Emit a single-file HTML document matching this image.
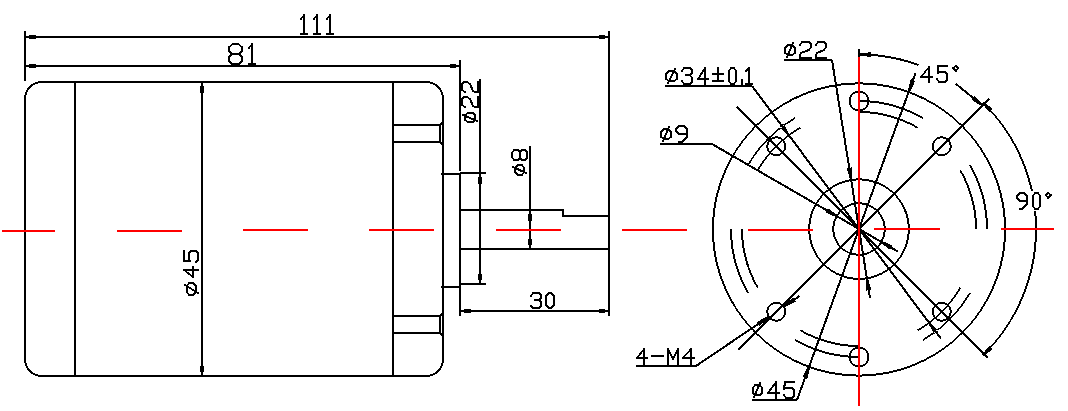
<!DOCTYPE html>
<html><head><meta charset="utf-8"><style>
html,body{margin:0;padding:0;background:#fff;}
body{width:1068px;height:411px;overflow:hidden;font-family:"Liberation Sans",sans-serif;}
svg{display:block;}
</style></head><body>
<svg width="1068" height="411" viewBox="0 0 1068 411" shape-rendering="crispEdges">
<rect width="1068" height="411" fill="#fff"/>
<rect x="25" y="82" width="418" height="294" rx="17" ry="17" fill="none" stroke="#000" stroke-width="2"/>
<path d="M460,210 L563,210 L563,216 L609,216" fill="none" stroke="#000" stroke-width="2"/>
<path d="M75,82 L75,376M393,82 L393,376M393,125 L440,125M393,142 L440,142M440,124 L440,143M393,316 L440,316M393,333 L440,333M440,315 L440,334M441,174 L460,174M460,173 L486,173M441,287 L460,287M460,284 L486,284M460,249 L609,249M25,31 L25,81M609,31 L609,316M460,60 L460,171M460,173 L460,316M25,37 L609,37M25,66 L460,66M202,83 L202,375M480,79 L480,284M530,146 L530,249M460,311 L609,311M738,350 L989,99M737,107 L988,358M859,49 L859,57M955.82,83.82 L981.74,104.97M784,60 L832,60M832,60 L870.04,298.12M665,86 L752,86M752,86 L941.08,338.69M660,144 L712,144M712,144 L898.22,251.68M752,400 L797,400M797,400 L915.58,72.94M636,366 L696,366M696,366 L768.4,317.05M784.14,306.41 L799.46,296.05" fill="none" stroke="#000" stroke-width="2" stroke-linecap="butt"/>
<path d="M440,125 L443,122M440,142 L443,145M440,316 L443,313M440,333 L443,336" fill="none" stroke="#000" stroke-width="1.5" stroke-linecap="butt"/>
<path d="M301,19 L304,15M314,19 L317,15M327,19 L330,15M238,44 L242,47M229,47 L233,44M249,48 L252,44" fill="none" stroke="#000" stroke-width="1.72" stroke-linecap="round"/>
<path d="M304,15 L304,34M301,34 L307,34M317,15 L317,34M314,34 L320,34M330,15 L330,34M327,34 L333,34M233,44 L238,44M242,47 L242,51M239,54 L232,54M229,51 L229,47M229,57 L229,61M232,64 L239,64M242,61 L242,57M252,44 L252,64M249,64 L255,64M187,292 L187,286M189,283 L193,283M196,286 L196,292M193,295 L189,295M198,270 L184,270M193,277 L193,267M184,251 L184,261M184,261 L190,261M189,259 L189,253M191,251 L196,251M198,253 L198,260M465,120 L465,115M468,113 L473,113M475,115 L475,120M473,122 L468,122M462,105 L462,99M464,97 L467,97M475,107 L478,107M478,107 L478,97M462,90 L462,84M464,82 L467,82M475,92 L478,92M478,92 L478,82M515,172 L515,168M518,165 L522,165M524,168 L524,172M522,175 L518,175M512,157 L512,153M514,150 L518,150M520,152 L520,158M518,160 L514,160M522,160 L525,160M527,158 L527,152M525,150 L522,150M533,293 L539,293M541,295 L541,298M539,300 L535,300M541,302 L541,306M539,308 L533,308M549,293 L551,293M554,296 L554,305M551,308 L549,308M546,305 L546,296M1027,201 L1020,201M1017,198 L1017,196M1020,193 L1024,193M1027,196 L1027,204M1022,209 L1020,209M1035,193 L1038,193M1040,196 L1040,206M1038,209 L1035,209M1033,206 L1033,196M929,82 L929,67M921,77 L932,77M947,66 L938,66M938,66 L938,73M940,72 L945,72M947,74 L947,80M945,82 L939,82M788,45 L792,45M795,48 L795,53M792,55 L788,55M785,53 L785,48M802,42 L809,42M811,44 L811,47M800,55 L800,58M800,58 L811,58M818,42 L824,42M826,44 L826,47M816,55 L816,58M816,58 L826,58M669,71 L674,71M677,74 L677,79M674,81 L669,81M666,79 L666,74M684,68 L690,68M692,70 L692,73M690,75 L686,75M692,78 L692,82M690,84 L684,84M705,84 L705,68M698,79 L708,79M718,68 L718,80M713,74 L723,74M713,81 L723,81M731,68 L734,68M736,71 L736,81M734,84 L731,84M729,81 L729,71M742,80 L742,84M749,68 L749,84M746,84 L752,84M664,129 L668,129M671,132 L671,137M668,139 L664,139M661,137 L661,132M687,134 L679,134M676,131 L676,129M679,126 L684,126M687,129 L687,137M682,142 L679,142M755,385 L760,385M762,388 L762,393M760,395 L755,395M753,393 L753,388M776,398 L776,382M768,393 L779,393M794,382 L785,382M786,388 L792,388M794,390 L794,396M792,398 L786,398M644,364 L644,349M637,358 L647,358M652,356 L663,356M668,364 L668,349M678,349 L678,364M691,364 L691,349M683,358 L694,358" fill="none" stroke="#000" stroke-width="2.12" stroke-linecap="round"/>
<path d="M242,51 L239,54M232,54 L229,51M232,54 L229,57M229,61 L232,64M239,64 L242,61M242,57 L239,54M193,283 L196,286M196,292 L193,295M189,253 L191,251M196,251 L198,253M198,260 L196,262M473,113 L475,115M475,120 L473,122M462,99 L464,97M462,84 L464,82M515,168 L518,165M518,175 L515,172M518,150 L520,152M520,158 L518,160M520,158 L522,160M525,160 L527,158M527,152 L525,150M522,150 L520,152M539,293 L541,295M541,298 L539,300M539,300 L541,302M541,306 L539,308M533,308 L531,306M551,293 L554,296M554,305 L551,308M549,308 L546,305M546,296 L549,293M1020,201 L1017,198M1017,196 L1020,193M1024,193 L1027,196M1027,204 L1023,208M1023,208 L1022,209M1051,195 L1048,198M1046,195 L1048,193M945,72 L947,74M947,80 L945,82M956,66 L958,68M956,71 L953,68M792,45 L795,48M785,48 L788,45M809,42 L811,44M824,42 L826,44M674,71 L677,74M666,74 L669,71M690,68 L692,70M692,73 L690,75M692,82 L690,84M746,71 L749,68M668,129 L671,132M661,132 L664,129M679,134 L676,131M676,129 L679,126M684,126 L687,129M687,137 L683,141M683,141 L682,142M762,393 L760,395M755,395 L753,393M792,388 L794,390M794,396 L792,398" fill="none" stroke="#000" stroke-width="1.53" stroke-linecap="round"/>
<path d="M187,286 L189,283M189,295 L187,292M465,115 L468,113M468,122 L465,120M465,107 L462,105M467,97 L470,99M465,92 L462,90M467,82 L470,84M522,165 L524,168M524,172 L522,175M512,153 L514,150M514,160 L512,157M531,296 L533,293M1038,193 L1040,196M1040,206 L1038,209M1035,209 L1033,206M1033,196 L1035,193M1048,193 L1051,195M1048,198 L1046,195M939,82 L937,79M958,68 L956,71M953,68 L956,66M795,53 L792,55M788,55 L785,53M800,45 L802,42M811,47 L809,50M816,45 L818,42M826,47 L824,50M677,79 L674,81M669,81 L666,79M682,71 L684,68M690,75 L692,78M684,84 L682,81M734,68 L736,71M736,81 L734,84M731,84 L729,81M729,71 L731,68M671,137 L668,139M664,139 L661,137M760,385 L762,388M753,388 L755,385M786,398 L784,395" fill="none" stroke="#000" stroke-width="1.78" stroke-linecap="round"/>
<path d="M198,293 L185,285" fill="none" stroke="#000" stroke-width="1.82" stroke-linecap="round"/>
<path d="M184,270 L193,277M644,349 L637,358" fill="none" stroke="#000" stroke-width="1.7" stroke-linecap="round"/>
<path d="M190,261 L189,259M473,106 L475,107M473,91 L475,92M938,73 L940,72M801,53 L800,55M817,53 L816,55M668,83 L675,69M784,389 L786,388M668,349 L673,359M673,359 L678,349" fill="none" stroke="#000" stroke-width="1.91" stroke-linecap="round"/>
<path d="M477,121 L463,115M470,99 L473,106M470,84 L473,91M787,57 L793,43M824,50 L817,53M663,141 L669,127M754,397 L760,383" fill="none" stroke="#000" stroke-width="1.96" stroke-linecap="round"/>
<path d="M526,173 L513,167" fill="none" stroke="#000" stroke-width="1.94" stroke-linecap="round"/>
<path d="M929,67 L921,77" fill="none" stroke="#000" stroke-width="1.68" stroke-linecap="round"/>
<path d="M809,50 L801,53" fill="none" stroke="#000" stroke-width="1.99" stroke-linecap="round"/>
<path d="M705,68 L698,79" fill="none" stroke="#000" stroke-width="1.81" stroke-linecap="round"/>
<path d="M776,382 L768,393" fill="none" stroke="#000" stroke-width="1.74" stroke-linecap="round"/>
<path d="M785,382 L784,389" fill="none" stroke="#000" stroke-width="2.1" stroke-linecap="round"/>
<path d="M691,349 L683,358" fill="none" stroke="#000" stroke-width="1.61" stroke-linecap="round"/>
<path d="M26,35.9 L35.5,34.55 L35.5,39.45 L26,38.1ZM608,38.1 L598.5,39.45 L598.5,34.55 L608,35.9ZM26,64.9 L35.5,63.55 L35.5,68.45 L26,67.1ZM459,67.1 L449.5,68.45 L449.5,63.55 L459,64.9ZM203.1,83 L204.45,92.5 L199.55,92.5 L200.9,83ZM200.9,375 L199.55,365.5 L204.45,365.5 L203.1,375ZM481.1,174 L482.45,183.5 L477.55,183.5 L478.9,174ZM478.9,283 L477.55,273.5 L482.45,273.5 L481.1,283ZM531.1,211 L532.45,220.5 L527.55,220.5 L528.9,211ZM528.9,248 L527.55,238.5 L532.45,238.5 L531.1,248ZM461,309.9 L470.5,308.55 L470.5,313.45 L461,312.1ZM608,312.1 L598.5,313.45 L598.5,308.55 L608,309.9ZM1006.05,229.5 L1006.03,227.36 L1005.99,225.22 L1005.91,223.09 L1005.8,220.95 L1005.66,218.82 L1005.49,216.68 L1005.28,214.56 L1005.05,212.43 L1004.78,210.31 L1004.49,208.19 L1004.16,206.08 L1003.8,203.97 L1003.41,201.86 L1002.99,199.77 L1002.54,197.68 L1002.06,195.59 L1001.55,193.52 L1001.01,191.45 L1000.43,189.39 L999.83,187.34 L999.2,185.3 L998.54,183.26 L997.85,181.24 L997.13,179.23 L996.37,177.22 L995.59,175.23 L994.79,173.26 L993.95,171.29 L993.08,169.33 L992.19,167.39 L991.26,165.47 L990.31,163.55 L989.33,161.65 L988.33,159.77 L987.29,157.9 L986.23,156.04 L985.14,154.2 L984.03,152.38 L982.89,150.57 L981.72,148.79 L980.53,147.01 L979.31,145.26 L978.06,143.52 L976.79,141.81 L975.5,140.11 L974.18,138.43 L972.84,136.77 L971.47,135.13 L970.08,133.51 L968.66,131.91 L967.22,130.33 L965.76,128.78 L964.28,127.24 L962.77,125.73 L961.26,124.22 L959.72,122.74 L958.17,121.28 L956.59,119.84 L954.99,118.42 L953.37,117.03 L951.73,115.66 L950.07,114.32 L948.39,113 L946.69,111.71 L944.98,110.44 L943.24,109.19 L941.49,107.97 L939.71,106.78 L937.93,105.61 L936.12,104.47 L934.3,103.36 L932.46,102.27 L930.6,101.21 L928.73,100.17 L926.85,99.17 L924.95,98.19 L923.03,97.24 L921.11,96.31 L919.17,95.42 L917.21,94.55 L915.24,93.71 L913.27,92.91 L911.28,92.13 L909.27,91.37 L907.26,90.65 L905.24,89.96 L903.2,89.3 L901.16,88.67 L899.11,88.07 L897.05,87.49 L894.98,86.95 L892.91,86.44 L890.82,85.96 L888.73,85.51 L886.64,85.09 L884.53,84.7 L882.42,84.34 L880.31,84.01 L878.19,83.72 L876.07,83.45 L873.94,83.22 L871.82,83.01 L869.68,82.84 L867.55,82.7 L865.41,82.59 L863.28,82.51 L861.14,82.47 L859,82.45 L856.86,82.47 L854.72,82.51 L852.59,82.59 L850.45,82.7 L848.32,82.84 L846.18,83.01 L844.06,83.22 L841.93,83.45 L839.81,83.72 L837.69,84.01 L835.58,84.34 L833.47,84.7 L831.36,85.09 L829.27,85.51 L827.18,85.96 L825.09,86.44 L823.02,86.95 L820.95,87.49 L818.89,88.07 L816.84,88.67 L814.8,89.3 L812.76,89.96 L810.74,90.65 L808.73,91.37 L806.72,92.13 L804.73,92.91 L802.76,93.71 L800.79,94.55 L798.83,95.42 L796.89,96.31 L794.97,97.24 L793.05,98.19 L791.15,99.17 L789.27,100.17 L787.4,101.21 L785.54,102.27 L783.7,103.36 L781.88,104.47 L780.07,105.61 L778.29,106.78 L776.51,107.97 L774.76,109.19 L773.02,110.44 L771.31,111.71 L769.61,113 L767.93,114.32 L766.27,115.66 L764.63,117.03 L763.01,118.42 L761.41,119.84 L759.83,121.28 L758.28,122.74 L756.74,124.22 L755.23,125.73 L753.72,127.24 L752.24,128.78 L750.78,130.33 L749.34,131.91 L747.92,133.51 L746.53,135.13 L745.16,136.77 L743.82,138.43 L742.5,140.11 L741.21,141.81 L739.94,143.52 L738.69,145.26 L737.47,147.01 L736.28,148.79 L735.11,150.57 L733.97,152.38 L732.86,154.2 L731.77,156.04 L730.71,157.9 L729.67,159.77 L728.67,161.65 L727.69,163.55 L726.74,165.47 L725.81,167.39 L724.92,169.33 L724.05,171.29 L723.21,173.26 L722.41,175.23 L721.63,177.22 L720.87,179.23 L720.15,181.24 L719.46,183.26 L718.8,185.3 L718.17,187.34 L717.57,189.39 L716.99,191.45 L716.45,193.52 L715.94,195.59 L715.46,197.68 L715.01,199.77 L714.59,201.86 L714.2,203.97 L713.84,206.08 L713.51,208.19 L713.22,210.31 L712.95,212.43 L712.72,214.56 L712.51,216.68 L712.34,218.82 L712.2,220.95 L712.09,223.09 L712.01,225.22 L711.97,227.36 L711.95,229.5 L711.97,231.64 L712.01,233.78 L712.09,235.91 L712.2,238.05 L712.34,240.18 L712.51,242.32 L712.72,244.44 L712.95,246.57 L713.22,248.69 L713.51,250.81 L713.84,252.92 L714.2,255.03 L714.59,257.14 L715.01,259.23 L715.46,261.32 L715.94,263.41 L716.45,265.48 L716.99,267.55 L717.57,269.61 L718.17,271.66 L718.8,273.7 L719.46,275.74 L720.15,277.76 L720.87,279.77 L721.63,281.78 L722.41,283.77 L723.21,285.74 L724.05,287.71 L724.92,289.67 L725.81,291.61 L726.74,293.53 L727.69,295.45 L728.67,297.35 L729.67,299.23 L730.71,301.1 L731.77,302.96 L732.86,304.8 L733.97,306.62 L735.11,308.43 L736.28,310.21 L737.47,311.99 L738.69,313.74 L739.94,315.48 L741.21,317.19 L742.5,318.89 L743.82,320.57 L745.16,322.23 L746.53,323.87 L747.92,325.49 L749.34,327.09 L750.78,328.67 L752.24,330.22 L753.72,331.76 L755.23,333.27 L756.74,334.78 L758.28,336.26 L759.83,337.72 L761.41,339.16 L763.01,340.58 L764.63,341.97 L766.27,343.34 L767.93,344.68 L769.61,346 L771.31,347.29 L773.02,348.56 L774.76,349.81 L776.51,351.03 L778.29,352.22 L780.07,353.39 L781.88,354.53 L783.7,355.64 L785.54,356.73 L787.4,357.79 L789.27,358.83 L791.15,359.83 L793.05,360.81 L794.97,361.76 L796.89,362.69 L798.83,363.58 L800.79,364.45 L802.76,365.29 L804.73,366.09 L806.72,366.87 L808.73,367.63 L810.74,368.35 L812.76,369.04 L814.8,369.7 L816.84,370.33 L818.89,370.93 L820.95,371.51 L823.02,372.05 L825.09,372.56 L827.18,373.04 L829.27,373.49 L831.36,373.91 L833.47,374.3 L835.58,374.66 L837.69,374.99 L839.81,375.28 L841.93,375.55 L844.06,375.78 L846.18,375.99 L848.32,376.16 L850.45,376.3 L852.59,376.41 L854.72,376.49 L856.86,376.53 L859,376.55 L861.14,376.53 L863.28,376.49 L865.41,376.41 L867.55,376.3 L869.68,376.16 L871.82,375.99 L873.94,375.78 L876.07,375.55 L878.19,375.28 L880.31,374.99 L882.42,374.66 L884.53,374.3 L886.64,373.91 L888.73,373.49 L890.82,373.04 L892.91,372.56 L894.98,372.05 L897.05,371.51 L899.11,370.93 L901.16,370.33 L903.2,369.7 L905.24,369.04 L907.26,368.35 L909.27,367.63 L911.28,366.87 L913.27,366.09 L915.24,365.29 L917.21,364.45 L919.17,363.58 L921.11,362.69 L923.03,361.76 L924.95,360.81 L926.85,359.83 L928.73,358.83 L930.6,357.79 L932.46,356.73 L934.3,355.64 L936.12,354.53 L937.93,353.39 L939.71,352.22 L941.49,351.03 L943.24,349.81 L944.98,348.56 L946.69,347.29 L948.39,346 L950.07,344.68 L951.73,343.34 L953.37,341.97 L954.99,340.58 L956.59,339.16 L958.17,337.72 L959.72,336.26 L961.26,334.78 L962.77,333.27 L964.28,331.76 L965.76,330.22 L967.22,328.67 L968.66,327.09 L970.08,325.49 L971.47,323.87 L972.84,322.23 L974.18,320.57 L975.5,318.89 L976.79,317.19 L978.06,315.48 L979.31,313.74 L980.53,311.99 L981.72,310.21 L982.89,308.43 L984.03,306.62 L985.14,304.8 L986.23,302.96 L987.29,301.1 L988.33,299.23 L989.33,297.35 L990.31,295.45 L991.26,293.53 L992.19,291.61 L993.08,289.67 L993.95,287.71 L994.79,285.74 L995.59,283.77 L996.37,281.78 L997.13,279.77 L997.85,277.76 L998.54,275.74 L999.2,273.7 L999.83,271.66 L1000.43,269.61 L1001.01,267.55 L1001.55,265.48 L1002.06,263.41 L1002.54,261.32 L1002.99,259.23 L1003.41,257.14 L1003.8,255.03 L1004.16,252.92 L1004.49,250.81 L1004.78,248.69 L1005.05,246.57 L1005.28,244.44 L1005.49,242.32 L1005.66,240.18 L1005.8,238.05 L1005.91,235.91 L1005.99,233.78 L1006.03,231.64ZM1004.03,231.61 L1003.99,233.72 L1003.91,235.83 L1003.81,237.93 L1003.67,240.04 L1003.5,242.14 L1003.3,244.24 L1003.08,246.34 L1002.82,248.43 L1002.53,250.52 L1002.21,252.61 L1001.86,254.69 L1001.48,256.77 L1001.07,258.84 L1000.63,260.9 L1000.17,262.96 L999.67,265.01 L999.14,267.05 L998.58,269.09 L998,271.11 L997.38,273.13 L996.74,275.14 L996.06,277.14 L995.36,279.13 L994.63,281.11 L993.87,283.08 L993.08,285.04 L992.26,286.98 L991.42,288.92 L990.54,290.84 L989.64,292.75 L988.72,294.65 L987.76,296.53 L986.78,298.4 L985.77,300.25 L984.73,302.09 L983.67,303.92 L982.58,305.73 L981.47,307.52 L980.32,309.3 L979.16,311.06 L977.97,312.8 L976.75,314.53 L975.51,316.24 L974.24,317.93 L972.95,319.6 L971.63,321.25 L970.29,322.89 L968.93,324.5 L967.54,326.1 L966.14,327.67 L964.7,329.23 L963.25,330.76 L961.77,332.27 L960.26,333.75 L958.73,335.2 L957.17,336.64 L955.6,338.04 L954,339.43 L952.39,340.79 L950.75,342.13 L949.1,343.45 L947.43,344.74 L945.74,346.01 L944.03,347.25 L942.3,348.47 L940.56,349.66 L938.8,350.82 L937.02,351.97 L935.23,353.08 L933.42,354.17 L931.59,355.23 L929.75,356.27 L927.9,357.28 L926.03,358.26 L924.15,359.22 L922.25,360.14 L920.34,361.04 L918.42,361.92 L916.48,362.76 L914.54,363.58 L912.58,364.37 L910.61,365.13 L908.63,365.86 L906.64,366.56 L904.64,367.24 L902.63,367.88 L900.61,368.5 L898.59,369.08 L896.55,369.64 L894.51,370.17 L892.46,370.67 L890.4,371.13 L888.34,371.57 L886.27,371.98 L884.19,372.36 L882.11,372.71 L880.02,373.03 L877.93,373.32 L875.84,373.58 L873.74,373.8 L871.64,374 L869.54,374.17 L867.43,374.31 L865.33,374.41 L863.22,374.49 L861.11,374.53 L859,374.55 L856.89,374.53 L854.78,374.49 L852.67,374.41 L850.57,374.31 L848.46,374.17 L846.36,374 L844.26,373.8 L842.16,373.58 L840.07,373.32 L837.98,373.03 L835.89,372.71 L833.81,372.36 L831.73,371.98 L829.66,371.57 L827.6,371.13 L825.54,370.67 L823.49,370.17 L821.45,369.64 L819.41,369.08 L817.39,368.5 L815.37,367.88 L813.36,367.24 L811.36,366.56 L809.37,365.86 L807.39,365.13 L805.42,364.37 L803.46,363.58 L801.52,362.76 L799.58,361.92 L797.66,361.04 L795.75,360.14 L793.85,359.22 L791.97,358.26 L790.1,357.28 L788.25,356.27 L786.41,355.23 L784.58,354.17 L782.77,353.08 L780.98,351.97 L779.2,350.82 L777.44,349.66 L775.7,348.47 L773.97,347.25 L772.26,346.01 L770.57,344.74 L768.9,343.45 L767.25,342.13 L765.61,340.79 L764,339.43 L762.4,338.04 L760.83,336.64 L759.27,335.2 L757.74,333.75 L756.23,332.27 L754.75,330.76 L753.3,329.23 L751.86,327.67 L750.46,326.1 L749.07,324.5 L747.71,322.89 L746.37,321.25 L745.05,319.6 L743.76,317.93 L742.49,316.24 L741.25,314.53 L740.03,312.8 L738.84,311.06 L737.68,309.3 L736.53,307.52 L735.42,305.73 L734.33,303.92 L733.27,302.09 L732.23,300.25 L731.22,298.4 L730.24,296.53 L729.28,294.65 L728.36,292.75 L727.46,290.84 L726.58,288.92 L725.74,286.98 L724.92,285.04 L724.13,283.08 L723.37,281.11 L722.64,279.13 L721.94,277.14 L721.26,275.14 L720.62,273.13 L720,271.11 L719.42,269.09 L718.86,267.05 L718.33,265.01 L717.83,262.96 L717.37,260.9 L716.93,258.84 L716.52,256.77 L716.14,254.69 L715.79,252.61 L715.47,250.52 L715.18,248.43 L714.92,246.34 L714.7,244.24 L714.5,242.14 L714.33,240.04 L714.19,237.93 L714.09,235.83 L714.01,233.72 L713.97,231.61 L713.95,229.5 L713.97,227.39 L714.01,225.28 L714.09,223.17 L714.19,221.07 L714.33,218.96 L714.5,216.86 L714.7,214.76 L714.92,212.66 L715.18,210.57 L715.47,208.48 L715.79,206.39 L716.14,204.31 L716.52,202.23 L716.93,200.16 L717.37,198.1 L717.83,196.04 L718.33,193.99 L718.86,191.95 L719.42,189.91 L720,187.89 L720.62,185.87 L721.26,183.86 L721.94,181.86 L722.64,179.87 L723.37,177.89 L724.13,175.92 L724.92,173.96 L725.74,172.02 L726.58,170.08 L727.46,168.16 L728.36,166.25 L729.28,164.35 L730.24,162.47 L731.22,160.6 L732.23,158.75 L733.27,156.91 L734.33,155.08 L735.42,153.27 L736.53,151.48 L737.68,149.7 L738.84,147.94 L740.03,146.2 L741.25,144.47 L742.49,142.76 L743.76,141.07 L745.05,139.4 L746.37,137.75 L747.71,136.11 L749.07,134.5 L750.46,132.9 L751.86,131.33 L753.3,129.77 L754.75,128.24 L756.23,126.73 L757.74,125.25 L759.27,123.8 L760.83,122.36 L762.4,120.96 L764,119.57 L765.61,118.21 L767.25,116.87 L768.9,115.55 L770.57,114.26 L772.26,112.99 L773.97,111.75 L775.7,110.53 L777.44,109.34 L779.2,108.18 L780.98,107.03 L782.77,105.92 L784.58,104.83 L786.41,103.77 L788.25,102.73 L790.1,101.72 L791.97,100.74 L793.85,99.78 L795.75,98.86 L797.66,97.96 L799.58,97.08 L801.52,96.24 L803.46,95.42 L805.42,94.63 L807.39,93.87 L809.37,93.14 L811.36,92.44 L813.36,91.76 L815.37,91.12 L817.39,90.5 L819.41,89.92 L821.45,89.36 L823.49,88.83 L825.54,88.33 L827.6,87.87 L829.66,87.43 L831.73,87.02 L833.81,86.64 L835.89,86.29 L837.98,85.97 L840.07,85.68 L842.16,85.42 L844.26,85.2 L846.36,85 L848.46,84.83 L850.57,84.69 L852.67,84.59 L854.78,84.51 L856.89,84.47 L859,84.45 L861.11,84.47 L863.22,84.51 L865.33,84.59 L867.43,84.69 L869.54,84.83 L871.64,85 L873.74,85.2 L875.84,85.42 L877.93,85.68 L880.02,85.97 L882.11,86.29 L884.19,86.64 L886.27,87.02 L888.34,87.43 L890.4,87.87 L892.46,88.33 L894.51,88.83 L896.55,89.36 L898.59,89.92 L900.61,90.5 L902.63,91.12 L904.64,91.76 L906.64,92.44 L908.63,93.14 L910.61,93.87 L912.58,94.63 L914.54,95.42 L916.48,96.24 L918.42,97.08 L920.34,97.96 L922.25,98.86 L924.15,99.78 L926.03,100.74 L927.9,101.72 L929.75,102.73 L931.59,103.77 L933.42,104.83 L935.23,105.92 L937.02,107.03 L938.8,108.18 L940.56,109.34 L942.3,110.53 L944.03,111.75 L945.74,112.99 L947.43,114.26 L949.1,115.55 L950.75,116.87 L952.39,118.21 L954,119.57 L955.6,120.96 L957.17,122.36 L958.73,123.8 L960.26,125.25 L961.77,126.73 L963.25,128.24 L964.7,129.77 L966.14,131.33 L967.54,132.9 L968.93,134.5 L970.29,136.11 L971.63,137.75 L972.95,139.4 L974.24,141.07 L975.51,142.76 L976.75,144.47 L977.97,146.2 L979.16,147.94 L980.32,149.7 L981.47,151.48 L982.58,153.27 L983.67,155.08 L984.73,156.91 L985.77,158.75 L986.78,160.6 L987.76,162.47 L988.72,164.35 L989.64,166.25 L990.54,168.16 L991.42,170.08 L992.26,172.02 L993.08,173.96 L993.87,175.92 L994.63,177.89 L995.36,179.87 L996.06,181.86 L996.74,183.86 L997.38,185.87 L998,187.89 L998.58,189.91 L999.14,191.95 L999.67,193.99 L1000.17,196.04 L1000.63,198.1 L1001.07,200.16 L1001.48,202.23 L1001.86,204.31 L1002.21,206.39 L1002.53,208.48 L1002.82,210.57 L1003.08,212.66 L1003.3,214.76 L1003.5,216.86 L1003.67,218.96 L1003.81,221.07 L1003.91,223.17 L1003.99,225.28 L1004.03,227.39 L1004.05,229.5ZM909.75,229.15 L909.7,226.94 L909.55,224.73 L909.31,222.53 L908.96,220.34 L908.52,218.17 L907.99,216.02 L907.36,213.9 L906.63,211.81 L905.82,209.76 L904.91,207.74 L903.92,205.77 L902.83,203.84 L901.67,201.97 L900.42,200.14 L899.1,198.38 L897.7,196.68 L896.22,195.04 L894.68,193.47 L893.11,191.93 L891.47,190.45 L889.77,189.05 L888.01,187.73 L886.18,186.48 L884.31,185.32 L882.38,184.23 L880.41,183.24 L878.39,182.33 L876.34,181.52 L874.25,180.79 L872.13,180.16 L869.98,179.63 L867.81,179.19 L865.62,178.84 L863.42,178.6 L861.21,178.45 L859,178.4 L856.79,178.45 L854.58,178.6 L852.38,178.84 L850.19,179.19 L848.02,179.63 L845.87,180.16 L843.75,180.79 L841.66,181.52 L839.61,182.33 L837.59,183.24 L835.62,184.23 L833.69,185.32 L831.82,186.48 L829.99,187.73 L828.23,189.05 L826.53,190.45 L824.89,191.93 L823.32,193.47 L821.78,195.04 L820.3,196.68 L818.9,198.38 L817.58,200.14 L816.33,201.97 L815.17,203.84 L814.08,205.77 L813.09,207.74 L812.18,209.76 L811.37,211.81 L810.64,213.9 L810.01,216.02 L809.48,218.17 L809.04,220.34 L808.69,222.53 L808.45,224.73 L808.3,226.94 L808.25,229.15 L808.3,231.36 L808.45,233.57 L808.69,235.77 L809.04,237.96 L809.48,240.13 L810.01,242.28 L810.64,244.4 L811.37,246.49 L812.18,248.54 L813.09,250.56 L814.08,252.53 L815.17,254.46 L816.33,256.33 L817.58,258.16 L818.9,259.92 L820.3,261.62 L821.78,263.26 L823.32,264.83 L824.89,266.37 L826.53,267.85 L828.23,269.25 L829.99,270.57 L831.82,271.82 L833.69,272.98 L835.62,274.07 L837.59,275.06 L839.61,275.97 L841.66,276.78 L843.75,277.51 L845.87,278.14 L848.02,278.67 L850.19,279.11 L852.38,279.46 L854.58,279.7 L856.79,279.85 L859,279.9 L861.21,279.85 L863.42,279.7 L865.62,279.46 L867.81,279.11 L869.98,278.67 L872.13,278.14 L874.25,277.51 L876.34,276.78 L878.39,275.97 L880.41,275.06 L882.38,274.07 L884.31,272.98 L886.18,271.82 L888.01,270.57 L889.77,269.25 L891.47,267.85 L893.11,266.37 L894.68,264.83 L896.22,263.26 L897.7,261.62 L899.1,259.92 L900.42,258.16 L901.67,256.33 L902.83,254.46 L903.92,252.53 L904.91,250.56 L905.82,248.54 L906.63,246.49 L907.36,244.4 L907.99,242.28 L908.52,240.13 L908.96,237.96 L909.31,235.77 L909.55,233.57 L909.7,231.36ZM907.7,231.28 L907.57,233.4 L907.34,235.51 L907.02,237.62 L906.62,239.71 L906.12,241.78 L905.54,243.82 L904.87,245.84 L904.11,247.83 L903.27,249.79 L902.34,251.71 L901.33,253.59 L900.25,255.43 L899.08,257.22 L897.84,258.95 L896.52,260.64 L895.14,262.26 L893.68,263.83 L892.11,265.29 L890.49,266.67 L888.8,267.99 L887.07,269.23 L885.28,270.4 L883.44,271.48 L881.56,272.49 L879.64,273.42 L877.68,274.26 L875.69,275.02 L873.67,275.69 L871.63,276.27 L869.56,276.77 L867.47,277.17 L865.36,277.49 L863.25,277.72 L861.13,277.85 L859,277.9 L856.87,277.85 L854.75,277.72 L852.64,277.49 L850.53,277.17 L848.44,276.77 L846.37,276.27 L844.33,275.69 L842.31,275.02 L840.32,274.26 L838.36,273.42 L836.44,272.49 L834.56,271.48 L832.72,270.4 L830.93,269.23 L829.2,267.99 L827.51,266.67 L825.89,265.29 L824.32,263.83 L822.86,262.26 L821.48,260.64 L820.16,258.95 L818.92,257.22 L817.75,255.43 L816.67,253.59 L815.66,251.71 L814.73,249.79 L813.89,247.83 L813.13,245.84 L812.46,243.82 L811.88,241.78 L811.38,239.71 L810.98,237.62 L810.66,235.51 L810.43,233.4 L810.3,231.28 L810.25,229.15 L810.3,227.02 L810.43,224.9 L810.66,222.79 L810.98,220.68 L811.38,218.59 L811.88,216.52 L812.46,214.48 L813.13,212.46 L813.89,210.47 L814.73,208.51 L815.66,206.59 L816.67,204.71 L817.75,202.87 L818.92,201.08 L820.16,199.35 L821.48,197.66 L822.86,196.04 L824.32,194.47 L825.89,193.01 L827.51,191.63 L829.2,190.31 L830.93,189.07 L832.72,187.9 L834.56,186.82 L836.44,185.81 L838.36,184.88 L840.32,184.04 L842.31,183.28 L844.33,182.61 L846.37,182.03 L848.44,181.53 L850.53,181.13 L852.64,180.81 L854.75,180.58 L856.87,180.45 L859,180.4 L861.13,180.45 L863.25,180.58 L865.36,180.81 L867.47,181.13 L869.56,181.53 L871.63,182.03 L873.67,182.61 L875.69,183.28 L877.68,184.04 L879.64,184.88 L881.56,185.81 L883.44,186.82 L885.28,187.9 L887.07,189.07 L888.8,190.31 L890.49,191.63 L892.11,193.01 L893.68,194.47 L895.14,196.04 L896.52,197.66 L897.84,199.35 L899.08,201.08 L900.25,202.87 L901.33,204.71 L902.34,206.59 L903.27,208.51 L904.11,210.47 L904.87,212.46 L905.54,214.48 L906.12,216.52 L906.62,218.59 L907.02,220.68 L907.34,222.79 L907.57,224.9 L907.7,227.02 L907.75,229.15ZM885.7,229.05 L885.59,226.72 L885.28,224.42 L884.76,222.15 L884.03,219.94 L883.11,217.81 L882.01,215.77 L880.72,213.84 L879.27,212.04 L877.67,210.38 L876.01,208.78 L874.21,207.33 L872.28,206.04 L870.24,204.94 L868.11,204.02 L865.9,203.29 L863.63,202.77 L861.33,202.46 L859,202.35 L856.67,202.46 L854.37,202.77 L852.1,203.29 L849.89,204.02 L847.76,204.94 L845.72,206.04 L843.79,207.33 L841.99,208.78 L840.33,210.38 L838.73,212.04 L837.28,213.84 L835.99,215.77 L834.89,217.81 L833.97,219.94 L833.24,222.15 L832.72,224.42 L832.41,226.72 L832.3,229.05 L832.41,231.38 L832.72,233.68 L833.24,235.95 L833.97,238.16 L834.89,240.29 L835.99,242.33 L837.28,244.26 L838.73,246.06 L840.33,247.72 L841.99,249.32 L843.79,250.77 L845.72,252.06 L847.76,253.16 L849.89,254.08 L852.1,254.81 L854.37,255.33 L856.67,255.64 L859,255.75 L861.33,255.64 L863.63,255.33 L865.9,254.81 L868.11,254.08 L870.24,253.16 L872.28,252.06 L874.21,250.77 L876.01,249.32 L877.67,247.72 L879.27,246.06 L880.72,244.26 L882.01,242.33 L883.11,240.29 L884.03,238.16 L884.76,235.95 L885.28,233.68 L885.59,231.38ZM883.61,231.2 L883.34,233.34 L882.89,235.45 L882.27,237.52 L881.47,239.53 L880.51,241.47 L879.38,243.32 L878.1,245.08 L876.67,246.72 L875.03,248.15 L873.27,249.43 L871.42,250.56 L869.48,251.52 L867.47,252.32 L865.4,252.94 L863.29,253.39 L861.15,253.66 L859,253.75 L856.85,253.66 L854.71,253.39 L852.6,252.94 L850.53,252.32 L848.52,251.52 L846.58,250.56 L844.73,249.43 L842.97,248.15 L841.33,246.72 L839.9,245.08 L838.62,243.32 L837.49,241.47 L836.53,239.53 L835.73,237.52 L835.11,235.45 L834.66,233.34 L834.39,231.2 L834.3,229.05 L834.39,226.9 L834.66,224.76 L835.11,222.65 L835.73,220.58 L836.53,218.57 L837.49,216.63 L838.62,214.78 L839.9,213.02 L841.33,211.38 L842.97,209.95 L844.73,208.67 L846.58,207.54 L848.52,206.58 L850.53,205.78 L852.6,205.16 L854.71,204.71 L856.85,204.44 L859,204.35 L861.15,204.44 L863.29,204.71 L865.4,205.16 L867.47,205.78 L869.48,206.58 L871.42,207.54 L873.27,208.67 L875.03,209.95 L876.67,211.38 L878.1,213.02 L879.38,214.78 L880.51,216.63 L881.47,218.57 L882.27,220.58 L882.89,222.65 L883.34,224.76 L883.61,226.9 L883.7,229.05ZM869.5,101 L869.44,99.97 L869.28,98.96 L869.01,97.96 L868.63,97.01 L868.16,96.11 L867.59,95.26 L866.94,94.48 L866.22,93.78 L865.52,93.06 L864.74,92.41 L863.89,91.84 L862.99,91.37 L862.04,90.99 L861.04,90.72 L860.03,90.56 L859,90.5 L857.97,90.56 L856.96,90.72 L855.96,90.99 L855.01,91.37 L854.11,91.84 L853.26,92.41 L852.48,93.06 L851.78,93.78 L851.06,94.48 L850.41,95.26 L849.84,96.11 L849.37,97.01 L848.99,97.96 L848.72,98.96 L848.56,99.97 L848.5,101 L848.56,102.03 L848.72,103.04 L848.99,104.04 L849.37,104.99 L849.84,105.89 L850.41,106.74 L851.06,107.52 L851.78,108.22 L852.48,108.94 L853.26,109.59 L854.11,110.16 L855.01,110.63 L855.96,111.01 L856.96,111.28 L857.97,111.44 L859,111.5 L860.03,111.44 L861.04,111.28 L862.04,111.01 L862.99,110.63 L863.89,110.16 L864.74,109.59 L865.52,108.94 L866.22,108.22 L866.94,107.52 L867.59,106.74 L868.16,105.89 L868.63,104.99 L869.01,104.04 L869.28,103.04 L869.44,102.03ZM867.46,101.83 L867.36,102.66 L867.18,103.48 L866.92,104.28 L866.6,105.06 L866.21,105.82 L865.75,106.54 L865.22,107.22 L864.54,107.75 L863.82,108.21 L863.06,108.6 L862.28,108.92 L861.48,109.18 L860.66,109.36 L859.83,109.46 L859,109.5 L858.17,109.46 L857.34,109.36 L856.52,109.18 L855.72,108.92 L854.94,108.6 L854.18,108.21 L853.46,107.75 L852.78,107.22 L852.25,106.54 L851.79,105.82 L851.4,105.06 L851.08,104.28 L850.82,103.48 L850.64,102.66 L850.54,101.83 L850.5,101 L850.54,100.17 L850.64,99.34 L850.82,98.52 L851.08,97.72 L851.4,96.94 L851.79,96.18 L852.25,95.46 L852.78,94.78 L853.46,94.25 L854.18,93.79 L854.94,93.4 L855.72,93.08 L856.52,92.82 L857.34,92.64 L858.17,92.54 L859,92.5 L859.83,92.54 L860.66,92.64 L861.48,92.82 L862.28,93.08 L863.06,93.4 L863.82,93.79 L864.54,94.25 L865.22,94.78 L865.75,95.46 L866.21,96.18 L866.6,96.94 L866.92,97.72 L867.18,98.52 L867.36,99.34 L867.46,100.17 L867.5,101ZM869.5,357 L869.44,355.97 L869.28,354.96 L869.01,353.96 L868.63,353.01 L868.16,352.11 L867.59,351.26 L866.94,350.48 L866.22,349.78 L865.52,349.06 L864.74,348.41 L863.89,347.84 L862.99,347.37 L862.04,346.99 L861.04,346.72 L860.03,346.56 L859,346.5 L857.97,346.56 L856.96,346.72 L855.96,346.99 L855.01,347.37 L854.11,347.84 L853.26,348.41 L852.48,349.06 L851.78,349.78 L851.06,350.48 L850.41,351.26 L849.84,352.11 L849.37,353.01 L848.99,353.96 L848.72,354.96 L848.56,355.97 L848.5,357 L848.56,358.03 L848.72,359.04 L848.99,360.04 L849.37,360.99 L849.84,361.89 L850.41,362.74 L851.06,363.52 L851.78,364.22 L852.48,364.94 L853.26,365.59 L854.11,366.16 L855.01,366.63 L855.96,367.01 L856.96,367.28 L857.97,367.44 L859,367.5 L860.03,367.44 L861.04,367.28 L862.04,367.01 L862.99,366.63 L863.89,366.16 L864.74,365.59 L865.52,364.94 L866.22,364.22 L866.94,363.52 L867.59,362.74 L868.16,361.89 L868.63,360.99 L869.01,360.04 L869.28,359.04 L869.44,358.03ZM867.46,357.83 L867.36,358.66 L867.18,359.48 L866.92,360.28 L866.6,361.06 L866.21,361.82 L865.75,362.54 L865.22,363.22 L864.54,363.75 L863.82,364.21 L863.06,364.6 L862.28,364.92 L861.48,365.18 L860.66,365.36 L859.83,365.46 L859,365.5 L858.17,365.46 L857.34,365.36 L856.52,365.18 L855.72,364.92 L854.94,364.6 L854.18,364.21 L853.46,363.75 L852.78,363.22 L852.25,362.54 L851.79,361.82 L851.4,361.06 L851.08,360.28 L850.82,359.48 L850.64,358.66 L850.54,357.83 L850.5,357 L850.54,356.17 L850.64,355.34 L850.82,354.52 L851.08,353.72 L851.4,352.94 L851.79,352.18 L852.25,351.46 L852.78,350.78 L853.46,350.25 L854.18,349.79 L854.94,349.4 L855.72,349.08 L856.52,348.82 L857.34,348.64 L858.17,348.54 L859,348.5 L859.83,348.54 L860.66,348.64 L861.48,348.82 L862.28,349.08 L863.06,349.4 L863.82,349.79 L864.54,350.25 L865.22,350.78 L865.75,351.46 L866.21,352.18 L866.6,352.94 L866.92,353.72 L867.18,354.52 L867.36,355.34 L867.46,356.17 L867.5,357ZM951.63,146.27 L951.58,145.3 L951.42,144.34 L951.16,143.41 L950.81,142.51 L950.36,141.66 L949.82,140.86 L949.21,140.13 L948.52,139.48 L947.87,138.79 L947.14,138.18 L946.34,137.64 L945.49,137.19 L944.59,136.84 L943.66,136.58 L942.7,136.42 L941.73,136.37 L940.76,136.42 L939.8,136.58 L938.87,136.84 L937.97,137.19 L937.12,137.64 L936.32,138.18 L935.6,138.79 L934.94,139.48 L934.25,140.13 L933.64,140.86 L933.1,141.66 L932.66,142.51 L932.3,143.41 L932.04,144.34 L931.88,145.3 L931.83,146.27 L931.88,147.24 L932.04,148.2 L932.3,149.13 L932.66,150.03 L933.1,150.88 L933.64,151.68 L934.25,152.4 L934.94,153.06 L935.6,153.75 L936.32,154.36 L937.12,154.9 L937.97,155.34 L938.87,155.7 L939.8,155.96 L940.76,156.12 L941.73,156.17 L942.7,156.12 L943.66,155.96 L944.59,155.7 L945.49,155.34 L946.34,154.9 L947.14,154.36 L947.87,153.75 L948.52,153.06 L949.21,152.4 L949.82,151.68 L950.36,150.88 L950.81,150.03 L951.16,149.13 L951.42,148.2 L951.58,147.24ZM949.6,147.04 L949.5,147.81 L949.33,148.57 L949.1,149.32 L948.8,150.05 L948.44,150.75 L948.01,151.42 L947.52,152.06 L946.89,152.55 L946.21,152.98 L945.51,153.34 L944.78,153.64 L944.04,153.87 L943.28,154.04 L942.51,154.14 L941.73,154.17 L940.96,154.14 L940.19,154.04 L939.43,153.87 L938.68,153.64 L937.95,153.34 L937.25,152.98 L936.58,152.55 L935.94,152.06 L935.45,151.42 L935.02,150.75 L934.66,150.05 L934.36,149.32 L934.13,148.57 L933.96,147.81 L933.86,147.04 L933.83,146.27 L933.86,145.49 L933.96,144.72 L934.13,143.96 L934.36,143.22 L934.66,142.49 L935.02,141.79 L935.45,141.11 L935.94,140.48 L936.58,139.99 L937.25,139.56 L937.95,139.2 L938.68,138.9 L939.43,138.67 L940.19,138.5 L940.96,138.4 L941.73,138.37 L942.51,138.4 L943.28,138.5 L944.04,138.67 L944.78,138.9 L945.51,139.2 L946.21,139.56 L946.89,139.99 L947.52,140.48 L948.01,141.11 L948.44,141.79 L948.8,142.49 L949.1,143.22 L949.33,143.96 L949.5,144.72 L949.6,145.49 L949.63,146.27ZM786.17,146.27 L786.12,145.3 L785.96,144.34 L785.7,143.41 L785.34,142.51 L784.9,141.66 L784.36,140.86 L783.75,140.13 L783.06,139.48 L782.4,138.79 L781.68,138.18 L780.88,137.64 L780.03,137.19 L779.13,136.84 L778.2,136.58 L777.24,136.42 L776.27,136.37 L775.3,136.42 L774.34,136.58 L773.41,136.84 L772.51,137.19 L771.66,137.64 L770.86,138.18 L770.13,138.79 L769.48,139.48 L768.79,140.13 L768.18,140.86 L767.64,141.66 L767.19,142.51 L766.84,143.41 L766.58,144.34 L766.42,145.3 L766.37,146.27 L766.42,147.24 L766.58,148.2 L766.84,149.13 L767.19,150.03 L767.64,150.88 L768.18,151.68 L768.79,152.4 L769.48,153.06 L770.13,153.75 L770.86,154.36 L771.66,154.9 L772.51,155.34 L773.41,155.7 L774.34,155.96 L775.3,156.12 L776.27,156.17 L777.24,156.12 L778.2,155.96 L779.13,155.7 L780.03,155.34 L780.88,154.9 L781.68,154.36 L782.4,153.75 L783.06,153.06 L783.75,152.4 L784.36,151.68 L784.9,150.88 L785.34,150.03 L785.7,149.13 L785.96,148.2 L786.12,147.24ZM784.14,147.04 L784.04,147.81 L783.87,148.57 L783.64,149.32 L783.34,150.05 L782.98,150.75 L782.55,151.42 L782.06,152.06 L781.42,152.55 L780.75,152.98 L780.05,153.34 L779.32,153.64 L778.57,153.87 L777.81,154.04 L777.04,154.14 L776.27,154.17 L775.49,154.14 L774.72,154.04 L773.96,153.87 L773.22,153.64 L772.49,153.34 L771.79,152.98 L771.11,152.55 L770.48,152.06 L769.99,151.42 L769.56,150.75 L769.2,150.05 L768.9,149.32 L768.67,148.57 L768.5,147.81 L768.4,147.04 L768.37,146.27 L768.4,145.49 L768.5,144.72 L768.67,143.96 L768.9,143.22 L769.2,142.49 L769.56,141.79 L769.99,141.11 L770.48,140.48 L771.11,139.99 L771.79,139.56 L772.49,139.2 L773.22,138.9 L773.96,138.67 L774.72,138.5 L775.49,138.4 L776.27,138.37 L777.04,138.4 L777.81,138.5 L778.57,138.67 L779.32,138.9 L780.05,139.2 L780.75,139.56 L781.42,139.99 L782.06,140.48 L782.55,141.11 L782.98,141.79 L783.34,142.49 L783.64,143.22 L783.87,143.96 L784.04,144.72 L784.14,145.49 L784.17,146.27ZM786.17,311.73 L786.12,310.76 L785.96,309.8 L785.7,308.87 L785.34,307.97 L784.9,307.12 L784.36,306.32 L783.75,305.6 L783.06,304.94 L782.4,304.25 L781.68,303.64 L780.88,303.1 L780.03,302.66 L779.13,302.3 L778.2,302.04 L777.24,301.88 L776.27,301.83 L775.3,301.88 L774.34,302.04 L773.41,302.3 L772.51,302.66 L771.66,303.1 L770.86,303.64 L770.13,304.25 L769.48,304.94 L768.79,305.6 L768.18,306.32 L767.64,307.12 L767.19,307.97 L766.84,308.87 L766.58,309.8 L766.42,310.76 L766.37,311.73 L766.42,312.7 L766.58,313.66 L766.84,314.59 L767.19,315.49 L767.64,316.34 L768.18,317.14 L768.79,317.87 L769.48,318.52 L770.13,319.21 L770.86,319.82 L771.66,320.36 L772.51,320.81 L773.41,321.16 L774.34,321.42 L775.3,321.58 L776.27,321.63 L777.24,321.58 L778.2,321.42 L779.13,321.16 L780.03,320.81 L780.88,320.36 L781.68,319.82 L782.4,319.21 L783.06,318.52 L783.75,317.87 L784.36,317.14 L784.9,316.34 L785.34,315.49 L785.7,314.59 L785.96,313.66 L786.12,312.7ZM784.14,312.51 L784.04,313.28 L783.87,314.04 L783.64,314.78 L783.34,315.51 L782.98,316.21 L782.55,316.89 L782.06,317.52 L781.42,318.01 L780.75,318.44 L780.05,318.8 L779.32,319.1 L778.57,319.33 L777.81,319.5 L777.04,319.6 L776.27,319.63 L775.49,319.6 L774.72,319.5 L773.96,319.33 L773.22,319.1 L772.49,318.8 L771.79,318.44 L771.11,318.01 L770.48,317.52 L769.99,316.89 L769.56,316.21 L769.2,315.51 L768.9,314.78 L768.67,314.04 L768.5,313.28 L768.4,312.51 L768.37,311.73 L768.4,310.96 L768.5,310.19 L768.67,309.43 L768.9,308.68 L769.2,307.95 L769.56,307.25 L769.99,306.58 L770.48,305.94 L771.11,305.45 L771.79,305.02 L772.49,304.66 L773.22,304.36 L773.96,304.13 L774.72,303.96 L775.49,303.86 L776.27,303.83 L777.04,303.86 L777.81,303.96 L778.57,304.13 L779.32,304.36 L780.05,304.66 L780.75,305.02 L781.42,305.45 L782.06,305.94 L782.55,306.58 L782.98,307.25 L783.34,307.95 L783.64,308.68 L783.87,309.43 L784.04,310.19 L784.14,310.96 L784.17,311.73ZM951.63,311.73 L951.58,310.76 L951.42,309.8 L951.16,308.87 L950.81,307.97 L950.36,307.12 L949.82,306.32 L949.21,305.6 L948.52,304.94 L947.87,304.25 L947.14,303.64 L946.34,303.1 L945.49,302.66 L944.59,302.3 L943.66,302.04 L942.7,301.88 L941.73,301.83 L940.76,301.88 L939.8,302.04 L938.87,302.3 L937.97,302.66 L937.12,303.1 L936.32,303.64 L935.6,304.25 L934.94,304.94 L934.25,305.6 L933.64,306.32 L933.1,307.12 L932.66,307.97 L932.3,308.87 L932.04,309.8 L931.88,310.76 L931.83,311.73 L931.88,312.7 L932.04,313.66 L932.3,314.59 L932.66,315.49 L933.1,316.34 L933.64,317.14 L934.25,317.87 L934.94,318.52 L935.6,319.21 L936.32,319.82 L937.12,320.36 L937.97,320.81 L938.87,321.16 L939.8,321.42 L940.76,321.58 L941.73,321.63 L942.7,321.58 L943.66,321.42 L944.59,321.16 L945.49,320.81 L946.34,320.36 L947.14,319.82 L947.87,319.21 L948.52,318.52 L949.21,317.87 L949.82,317.14 L950.36,316.34 L950.81,315.49 L951.16,314.59 L951.42,313.66 L951.58,312.7ZM949.6,312.51 L949.5,313.28 L949.33,314.04 L949.1,314.78 L948.8,315.51 L948.44,316.21 L948.01,316.89 L947.52,317.52 L946.89,318.01 L946.21,318.44 L945.51,318.8 L944.78,319.1 L944.04,319.33 L943.28,319.5 L942.51,319.6 L941.73,319.63 L940.96,319.6 L940.19,319.5 L939.43,319.33 L938.68,319.1 L937.95,318.8 L937.25,318.44 L936.58,318.01 L935.94,317.52 L935.45,316.89 L935.02,316.21 L934.66,315.51 L934.36,314.78 L934.13,314.04 L933.96,313.28 L933.86,312.51 L933.83,311.73 L933.86,310.96 L933.96,310.19 L934.13,309.43 L934.36,308.68 L934.66,307.95 L935.02,307.25 L935.45,306.58 L935.94,305.94 L936.58,305.45 L937.25,305.02 L937.95,304.66 L938.68,304.36 L939.43,304.13 L940.19,303.96 L940.96,303.86 L941.73,303.83 L942.51,303.86 L943.28,303.96 L944.04,304.13 L944.78,304.36 L945.51,304.66 L946.21,305.02 L946.89,305.45 L947.52,305.94 L948.01,306.58 L948.44,307.25 L948.8,307.95 L949.1,308.68 L949.33,309.43 L949.5,310.19 L949.6,310.96 L949.63,311.73ZM977,229 L976.98,226.87 L976.92,224.74 L976.83,222.61 L976.69,220.49 L976.52,218.36 L976.3,216.24 L976.05,214.13 L975.76,212.02 L975.43,209.91 L975.07,207.81 L974.66,205.72 L974.22,203.64 L973.74,201.56 L973.22,199.5 L972.66,197.44 L972.07,195.4 L971.44,193.36 L970.77,191.34 L970.07,189.33 L969.33,187.33 L968.55,185.35 L967.74,183.38 L966.89,181.43 L966.01,179.49 L965.09,177.57 L964.14,175.67 L963.15,173.78 L962.13,171.92 L961.07,170.07 L959.57,170.93 L960.6,172.76 L961.59,174.61 L962.55,176.47 L963.47,178.36 L964.36,180.25 L965.22,182.17 L966.04,184.1 L966.83,186.04 L967.58,187.99 L968.3,189.96 L968.98,191.94 L969.62,193.94 L970.23,195.94 L970.81,197.96 L971.34,199.98 L971.85,202.02 L972.31,204.06 L972.74,206.11 L973.13,208.17 L973.48,210.23 L973.8,212.3 L974.08,214.38 L974.33,216.46 L974.53,218.54 L974.7,220.63 L974.83,222.72 L974.93,224.81 L974.98,226.91 L975,229ZM988,229 L987.98,226.89 L987.93,224.78 L987.84,222.67 L987.72,220.56 L987.57,218.46 L987.37,216.36 L987.15,214.26 L986.89,212.16 L986.59,210.07 L986.26,207.99 L985.9,205.91 L985.5,203.84 L985.07,201.77 L984.6,199.71 L984.1,197.66 L983.57,195.62 L983,193.59 L982.4,191.57 L981.77,189.55 L981.1,187.55 L980.4,185.56 L979.67,183.58 L978.91,181.62 L978.11,179.66 L977.28,177.72 L976.42,175.8 L975.53,173.89 L974.6,171.99 L973.65,170.11 L972.66,168.25 L971.65,166.4 L970.6,164.57 L969.1,165.43 L970.12,167.25 L971.11,169.08 L972.07,170.92 L973,172.78 L973.89,174.66 L974.76,176.55 L975.6,178.45 L976.4,180.37 L977.18,182.3 L977.92,184.24 L978.63,186.2 L979.31,188.16 L979.96,190.14 L980.57,192.12 L981.16,194.12 L981.71,196.12 L982.22,198.13 L982.71,200.16 L983.16,202.18 L983.58,204.22 L983.96,206.26 L984.32,208.31 L984.64,210.36 L984.92,212.42 L985.17,214.48 L985.39,216.55 L985.58,218.62 L985.73,220.69 L985.85,222.77 L985.93,224.84 L985.98,226.92 L986,229ZM917.93,126.93 L916.08,125.87 L914.22,124.85 L912.33,123.86 L910.43,122.91 L908.51,121.99 L906.57,121.11 L904.62,120.26 L902.65,119.45 L900.67,118.67 L898.67,117.93 L896.66,117.23 L894.64,116.56 L892.6,115.93 L890.56,115.34 L888.5,114.78 L886.44,114.26 L884.36,113.78 L882.28,113.34 L880.19,112.93 L878.09,112.57 L875.98,112.24 L873.87,111.95 L871.76,111.7 L869.64,111.48 L867.51,111.31 L865.39,111.17 L863.26,111.08 L861.13,111.02 L859,111 L859,113 L861.09,113.02 L863.19,113.07 L865.28,113.17 L867.37,113.3 L869.46,113.47 L871.54,113.67 L873.62,113.92 L875.7,114.2 L877.77,114.52 L879.83,114.87 L881.89,115.26 L883.94,115.69 L885.98,116.15 L888.02,116.66 L890.04,117.19 L892.06,117.77 L894.06,118.38 L896.06,119.02 L898.04,119.7 L900.01,120.42 L901.96,121.17 L903.9,121.96 L905.83,122.78 L907.75,123.64 L909.64,124.53 L911.53,125.45 L913.39,126.41 L915.24,127.4 L917.07,128.43ZM923.43,117.4 L921.6,116.35 L919.75,115.34 L917.89,114.35 L916.01,113.4 L914.11,112.47 L912.2,111.58 L910.28,110.72 L908.34,109.89 L906.38,109.09 L904.42,108.33 L902.44,107.6 L900.45,106.9 L898.45,106.23 L896.43,105.6 L894.41,105 L892.38,104.43 L890.34,103.9 L888.29,103.4 L886.23,102.93 L884.16,102.5 L882.09,102.1 L880.01,101.74 L877.93,101.41 L875.84,101.11 L873.74,100.85 L871.64,100.63 L869.54,100.43 L867.44,100.28 L865.33,100.16 L863.22,100.07 L861.11,100.02 L859,100 L859,102 L861.08,102.02 L863.16,102.07 L865.23,102.15 L867.31,102.27 L869.38,102.42 L871.45,102.61 L873.52,102.83 L875.58,103.08 L877.64,103.36 L879.69,103.68 L881.74,104.04 L883.78,104.42 L885.82,104.84 L887.84,105.29 L889.87,105.78 L891.88,106.29 L893.88,106.84 L895.88,107.43 L897.86,108.04 L899.84,108.69 L901.8,109.37 L903.76,110.08 L905.7,110.82 L907.63,111.6 L909.55,112.4 L911.45,113.24 L913.34,114.11 L915.22,115 L917.08,115.93 L918.92,116.89 L920.75,117.88 L922.57,118.9ZM800.07,126.93 L798.24,128.01 L796.43,129.13 L794.64,130.29 L792.88,131.48 L791.13,132.69 L789.41,133.94 L787.71,135.22 L786.04,136.53 L784.39,137.88 L782.76,139.25 L781.16,140.65 L779.59,142.07 L778.04,143.53 L776.52,145.02 L775.02,146.52 L773.53,148.04 L772.07,149.59 L770.65,151.16 L769.25,152.76 L767.88,154.39 L766.53,156.04 L765.22,157.71 L763.94,159.41 L762.69,161.13 L761.48,162.88 L760.29,164.64 L759.13,166.43 L758.01,168.24 L756.93,170.07 L758.43,170.93 L759.48,169.12 L760.57,167.33 L761.69,165.56 L762.85,163.81 L764.03,162.07 L765.25,160.36 L766.49,158.68 L767.77,157.01 L769.07,155.37 L770.41,153.75 L771.77,152.15 L773.16,150.58 L774.59,149.04 L776.03,147.52 L777.52,146.03 L779.04,144.59 L780.58,143.16 L782.15,141.77 L783.75,140.41 L785.37,139.07 L787.01,137.77 L788.68,136.49 L790.36,135.25 L792.07,134.03 L793.81,132.85 L795.56,131.69 L797.33,130.57 L799.12,129.48 L800.93,128.43ZM794.57,117.4 L792.75,118.48 L790.96,119.58 L789.18,120.72 L787.43,121.88 L785.69,123.07 L783.97,124.29 L782.27,125.54 L780.6,126.82 L778.94,128.13 L777.31,129.46 L775.7,130.82 L774.11,132.2 L772.54,133.61 L771,135.04 L769.48,136.51 L767.99,137.99 L766.51,139.48 L765.04,141 L763.61,142.54 L762.2,144.11 L760.82,145.7 L759.46,147.31 L758.13,148.94 L756.82,150.6 L755.54,152.27 L754.29,153.97 L753.07,155.69 L751.88,157.43 L750.72,159.18 L749.58,160.96 L748.48,162.75 L747.4,164.57 L748.9,165.43 L749.95,163.64 L751.02,161.86 L752.13,160.09 L753.26,158.35 L754.43,156.62 L755.62,154.92 L756.83,153.23 L758.08,151.56 L759.35,149.91 L760.65,148.29 L761.98,146.68 L763.33,145.1 L764.71,143.54 L766.11,142 L767.54,140.48 L768.99,138.99 L770.48,137.54 L772,136.11 L773.54,134.71 L775.1,133.33 L776.68,131.98 L778.29,130.65 L779.91,129.35 L781.56,128.08 L783.23,126.83 L784.92,125.62 L786.62,124.43 L788.35,123.26 L790.09,122.13 L791.86,121.02 L793.64,119.95 L795.43,118.9ZM741,229 L741.02,231.13 L741.08,233.26 L741.17,235.39 L741.31,237.51 L741.48,239.64 L741.7,241.76 L741.95,243.87 L742.24,245.98 L742.57,248.09 L742.93,250.19 L743.34,252.28 L743.78,254.36 L744.26,256.44 L744.78,258.5 L745.34,260.56 L745.93,262.6 L746.56,264.64 L747.23,266.66 L747.93,268.67 L748.67,270.67 L749.45,272.65 L750.26,274.62 L751.11,276.57 L751.99,278.51 L752.91,280.43 L753.86,282.33 L754.85,284.22 L755.87,286.08 L756.93,287.93 L758.43,287.07 L757.4,285.24 L756.41,283.39 L755.45,281.53 L754.53,279.64 L753.64,277.75 L752.78,275.83 L751.96,273.9 L751.17,271.96 L750.42,270.01 L749.7,268.04 L749.02,266.06 L748.38,264.06 L747.77,262.06 L747.19,260.04 L746.66,258.02 L746.15,255.98 L745.69,253.94 L745.26,251.89 L744.87,249.83 L744.52,247.77 L744.2,245.7 L743.92,243.62 L743.67,241.54 L743.47,239.46 L743.3,237.37 L743.17,235.28 L743.07,233.19 L743.02,231.09 L743,229ZM730,229 L730.02,231.11 L730.07,233.22 L730.16,235.33 L730.28,237.44 L730.43,239.54 L730.63,241.64 L730.85,243.74 L731.11,245.84 L731.41,247.93 L731.74,250.01 L732.1,252.09 L732.5,254.16 L732.93,256.23 L733.4,258.29 L733.9,260.34 L734.43,262.38 L735,264.41 L735.6,266.43 L736.23,268.45 L736.9,270.45 L737.6,272.44 L738.33,274.42 L739.09,276.38 L739.89,278.34 L740.72,280.28 L741.58,282.2 L742.47,284.11 L743.4,286.01 L744.35,287.89 L745.34,289.75 L746.35,291.6 L747.4,293.43 L748.9,292.57 L747.88,290.75 L746.89,288.92 L745.93,287.08 L745,285.22 L744.11,283.34 L743.24,281.45 L742.4,279.55 L741.6,277.63 L740.82,275.7 L740.08,273.76 L739.37,271.8 L738.69,269.84 L738.04,267.86 L737.43,265.88 L736.84,263.88 L736.29,261.88 L735.78,259.87 L735.29,257.84 L734.84,255.82 L734.42,253.78 L734.04,251.74 L733.68,249.69 L733.36,247.64 L733.08,245.58 L732.83,243.52 L732.61,241.45 L732.42,239.38 L732.27,237.31 L732.15,235.23 L732.07,233.16 L732.02,231.08 L732,229ZM800.07,331.07 L801.92,332.13 L803.78,333.15 L805.67,334.14 L807.57,335.09 L809.49,336.01 L811.43,336.89 L813.38,337.74 L815.35,338.55 L817.33,339.33 L819.33,340.07 L821.34,340.77 L823.36,341.44 L825.4,342.07 L827.44,342.66 L829.5,343.22 L831.56,343.74 L833.64,344.22 L835.72,344.66 L837.81,345.07 L839.91,345.43 L842.02,345.76 L844.13,346.05 L846.24,346.3 L848.36,346.52 L850.49,346.69 L852.61,346.83 L854.74,346.92 L856.87,346.98 L859,347 L859,345 L856.91,344.98 L854.81,344.93 L852.72,344.83 L850.63,344.7 L848.54,344.53 L846.46,344.33 L844.38,344.08 L842.3,343.8 L840.23,343.48 L838.17,343.13 L836.11,342.74 L834.06,342.31 L832.02,341.85 L829.98,341.34 L827.96,340.81 L825.94,340.23 L823.94,339.62 L821.94,338.98 L819.96,338.3 L817.99,337.58 L816.04,336.83 L814.1,336.04 L812.17,335.22 L810.25,334.36 L808.36,333.47 L806.47,332.55 L804.61,331.59 L802.76,330.6 L800.93,329.57ZM794.57,340.6 L796.4,341.65 L798.25,342.66 L800.11,343.65 L801.99,344.6 L803.89,345.53 L805.8,346.42 L807.72,347.28 L809.66,348.11 L811.62,348.91 L813.58,349.67 L815.56,350.4 L817.55,351.1 L819.55,351.77 L821.57,352.4 L823.59,353 L825.62,353.57 L827.66,354.1 L829.71,354.6 L831.77,355.07 L833.84,355.5 L835.91,355.9 L837.99,356.26 L840.07,356.59 L842.16,356.89 L844.26,357.15 L846.36,357.37 L848.46,357.57 L850.56,357.72 L852.67,357.84 L854.78,357.93 L856.89,357.98 L859,358 L859,356 L856.92,355.98 L854.84,355.93 L852.77,355.85 L850.69,355.73 L848.62,355.58 L846.55,355.39 L844.48,355.17 L842.42,354.92 L840.36,354.64 L838.31,354.32 L836.26,353.96 L834.22,353.58 L832.18,353.16 L830.16,352.71 L828.13,352.22 L826.12,351.71 L824.12,351.16 L822.12,350.57 L820.14,349.96 L818.16,349.31 L816.2,348.63 L814.24,347.92 L812.3,347.18 L810.37,346.4 L808.45,345.6 L806.55,344.76 L804.66,343.89 L802.78,343 L800.92,342.07 L799.08,341.11 L797.25,340.12 L795.43,339.1ZM917.93,331.07 L919.76,329.99 L921.57,328.87 L923.36,327.71 L925.12,326.52 L926.87,325.31 L928.59,324.06 L930.29,322.78 L931.96,321.47 L933.61,320.12 L935.24,318.75 L936.84,317.35 L938.41,315.93 L939.96,314.47 L941.48,312.98 L942.98,311.48 L944.47,309.96 L945.93,308.41 L947.35,306.84 L948.75,305.24 L950.12,303.61 L951.47,301.96 L952.78,300.29 L954.06,298.59 L955.31,296.87 L956.52,295.12 L957.71,293.36 L958.87,291.57 L959.99,289.76 L961.07,287.93 L959.57,287.07 L958.52,288.88 L957.43,290.67 L956.31,292.44 L955.15,294.19 L953.97,295.93 L952.75,297.64 L951.51,299.32 L950.23,300.99 L948.93,302.63 L947.59,304.25 L946.23,305.85 L944.84,307.42 L943.41,308.96 L941.97,310.48 L940.48,311.97 L938.96,313.41 L937.42,314.84 L935.85,316.23 L934.25,317.59 L932.63,318.93 L930.99,320.23 L929.32,321.51 L927.64,322.75 L925.93,323.97 L924.19,325.15 L922.44,326.31 L920.67,327.43 L918.88,328.52 L917.07,329.57ZM923.43,340.6 L925.25,339.52 L927.04,338.42 L928.82,337.28 L930.57,336.12 L932.31,334.93 L934.03,333.71 L935.73,332.46 L937.4,331.18 L939.06,329.87 L940.69,328.54 L942.3,327.18 L943.89,325.8 L945.46,324.39 L947,322.96 L948.52,321.49 L950.01,320.01 L951.49,318.52 L952.96,317 L954.39,315.46 L955.8,313.89 L957.18,312.3 L958.54,310.69 L959.87,309.06 L961.18,307.4 L962.46,305.73 L963.71,304.03 L964.93,302.31 L966.12,300.57 L967.28,298.82 L968.42,297.04 L969.52,295.25 L970.6,293.43 L969.1,292.57 L968.05,294.36 L966.98,296.14 L965.87,297.91 L964.74,299.65 L963.57,301.38 L962.38,303.08 L961.17,304.77 L959.92,306.44 L958.65,308.09 L957.35,309.71 L956.02,311.32 L954.67,312.9 L953.29,314.46 L951.89,316 L950.46,317.52 L949.01,319.01 L947.52,320.46 L946,321.89 L944.46,323.29 L942.9,324.67 L941.32,326.02 L939.71,327.35 L938.09,328.65 L936.44,329.92 L934.77,331.17 L933.08,332.38 L931.38,333.57 L929.65,334.74 L927.91,335.87 L926.14,336.98 L924.36,338.05 L922.57,339.1ZM984.66,103.34 L986.14,104.83 L987.61,106.34 L989.06,107.87 L990.5,109.42 L991.91,110.98 L993.31,112.56 L994.68,114.15 L996.04,115.77 L997.38,117.39 L998.7,119.04 L1000,120.7 L1001.28,122.37 L1002.54,124.06 L1003.78,125.77 L1005,127.49 L1006.2,129.22 L1007.37,130.97 L1008.53,132.73 L1009.67,134.51 L1010.78,136.3 L1011.88,138.1 L1012.95,139.91 L1014,141.74 L1015.03,143.58 L1016.03,145.44 L1017.02,147.3 L1017.98,149.18 L1018.92,151.07 L1019.84,152.96 L1020.73,154.87 L1021.6,156.79 L1022.45,158.73 L1023.28,160.67 L1024.08,162.62 L1024.86,164.58 L1025.62,166.55 L1026.35,168.52 L1027.06,170.51 L1027.74,172.51 L1028.4,174.51 L1029.04,176.52 L1029.65,178.54 L1030.24,180.56 L1030.81,182.6 L1031.35,184.64 L1031.87,186.68 L1032.36,188.73 L1032.83,190.79 L1030.92,191.21 L1030.46,189.17 L1029.98,187.14 L1029.47,185.12 L1028.95,183.1 L1028.39,181.09 L1027.82,179.08 L1027.22,177.08 L1026.59,175.09 L1025.94,173.11 L1025.27,171.13 L1024.58,169.16 L1023.86,167.2 L1023.12,165.25 L1022.36,163.31 L1021.57,161.38 L1020.76,159.45 L1019.93,157.54 L1019.08,155.63 L1018.2,153.74 L1017.3,151.85 L1016.38,149.98 L1015.44,148.12 L1014.47,146.27 L1013.49,144.43 L1012.48,142.6 L1011.45,140.78 L1010.4,138.98 L1009.33,137.19 L1008.23,135.41 L1007.12,133.64 L1005.98,131.89 L1004.83,130.15 L1003.65,128.42 L1002.45,126.71 L1001.23,125.01 L1000,123.33 L998.74,121.66 L997.46,120.01 L996.17,118.37 L994.85,116.75 L993.52,115.14 L992.17,113.55 L990.79,111.97 L989.4,110.41 L987.99,108.87 L986.57,107.34 L985.12,105.83 L983.66,104.34ZM1036.07,210.9 L1036.28,213.02 L1036.46,215.15 L1036.61,217.28 L1036.74,219.41 L1036.84,221.54 L1036.92,223.67 L1036.97,225.81 L1037,227.94 L1037,230.08 L1036.97,232.21 L1036.92,234.34 L1036.84,236.48 L1036.74,238.61 L1036.61,240.74 L1036.46,242.87 L1036.28,244.99 L1036.07,247.12 L1035.84,249.24 L1035.58,251.36 L1035.3,253.47 L1034.99,255.58 L1034.66,257.69 L1034.3,259.8 L1033.92,261.9 L1033.51,263.99 L1033.07,266.08 L1032.61,268.16 L1032.13,270.24 L1031.62,272.31 L1031.08,274.38 L1030.52,276.44 L1029.94,278.49 L1029.33,280.54 L1028.7,282.57 L1028.04,284.6 L1027.36,286.62 L1026.65,288.64 L1025.92,290.64 L1025.16,292.64 L1024.39,294.62 L1023.58,296.6 L1022.76,298.57 L1021.91,300.52 L1021.03,302.47 L1020.14,304.4 L1019.22,306.33 L1018.27,308.24 L1017.31,310.14 L1016.32,312.03 L1015.3,313.91 L1014.27,315.78 L1013.21,317.63 L1012.13,319.47 L1011.03,321.29 L1009.91,323.11 L1008.77,324.91 L1007.6,326.69 L1006.41,328.46 L1005.2,330.22 L1003.97,331.96 L1002.72,333.69 L1001.45,335.4 L1000.16,337.09 L998.85,338.77 L997.52,340.44 L996.16,342.09 L994.79,343.72 L993.4,345.33 L991.99,346.93 L990.56,348.51 L989.11,350.07 L987.65,351.62 L986.16,353.15 L984.66,354.66 L983.66,353.66 L985.14,352.15 L986.6,350.62 L988.04,349.08 L989.47,347.52 L990.87,345.94 L992.26,344.34 L993.63,342.73 L994.97,341.1 L996.3,339.46 L997.61,337.8 L998.9,336.13 L1000.17,334.44 L1001.42,332.73 L1002.64,331.02 L1003.85,329.28 L1005.04,327.53 L1006.2,325.77 L1007.35,324 L1008.47,322.21 L1009.57,320.41 L1010.65,318.59 L1011.71,316.76 L1012.75,314.92 L1013.76,313.07 L1014.75,311.21 L1015.72,309.33 L1016.67,307.44 L1017.59,305.55 L1018.49,303.64 L1019.37,301.72 L1020.23,299.79 L1021.06,297.85 L1021.87,295.9 L1022.66,293.94 L1023.42,291.97 L1024.16,289.99 L1024.88,288.01 L1025.57,286.01 L1026.24,284.01 L1026.88,282 L1027.5,279.98 L1028.1,277.96 L1028.67,275.92 L1029.21,273.89 L1029.74,271.84 L1030.24,269.79 L1030.71,267.73 L1031.16,265.67 L1031.58,263.6 L1031.98,261.53 L1032.36,259.46 L1032.71,257.37 L1033.04,255.29 L1033.34,253.2 L1033.61,251.11 L1033.87,249.01 L1034.09,246.91 L1034.29,244.81 L1034.47,242.71 L1034.62,240.61 L1034.74,238.5 L1034.85,236.39 L1034.92,234.28 L1034.97,232.17 L1035,230.06 L1035,227.95 L1034.97,225.84 L1034.92,223.73 L1034.85,221.62 L1034.75,219.52 L1034.62,217.41 L1034.47,215.3 L1034.29,213.2 L1034.09,211.1ZM983.83,101.97 L992.62,108.72 L989.19,112.21 L982.29,103.54ZM982.29,354.46 L989.19,345.79 L992.62,349.28 L983.83,356.03ZM859,53.5 L861.11,53.51 L863.22,53.55 L865.34,53.62 L867.45,53.7 L869.56,53.82 L871.66,53.96 L873.77,54.13 L875.87,54.32 L877.97,54.53 L880.07,54.78 L882.17,55.04 L884.26,55.34 L886.35,55.66 L888.43,56 L890.51,56.37 L892.59,56.76 L894.66,57.18 L896.72,57.63 L898.78,58.09 L900.84,58.59 L902.88,59.11 L904.92,59.65 L906.96,60.22 L908.98,60.81 L911,61.43 L913.02,62.07 L915.02,62.74 L917.02,63.43 L919,64.14 L918.36,65.91 L916.39,65.21 L914.42,64.53 L912.43,63.88 L910.44,63.25 L908.44,62.65 L906.43,62.07 L904.42,61.51 L902.4,60.98 L900.37,60.48 L898.34,59.99 L896.3,59.53 L894.26,59.1 L892.21,58.69 L890.16,58.3 L888.1,57.94 L886.04,57.61 L883.97,57.3 L881.91,57.01 L879.83,56.75 L877.76,56.51 L875.68,56.3 L873.6,56.11 L871.52,55.95 L869.44,55.81 L867.35,55.7 L865.26,55.61 L863.18,55.55 L861.09,55.51 L859,55.5ZM860.23,53.4 L871.24,52.13 L871.2,57.03 L860.21,55.6ZM981.05,105.82 L971.67,99.91 L974.77,96.11 L982.44,104.11ZM850.1,180.29 L846.8,168.16 L851.64,167.39 L852.28,179.95ZM867.9,277.71 L871.2,289.84 L866.36,290.61 L865.72,278.05ZM788.02,135.98 L779.45,126.78 L783.38,123.85 L789.79,134.66ZM929.98,322.02 L938.55,331.22 L934.62,334.15 L928.21,323.34ZM836.81,217.44 L825.31,212.35 L827.76,208.11 L837.91,215.53ZM881.19,240.56 L892.69,245.65 L890.24,249.89 L880.09,242.47ZM810.27,366.63 L807.28,378.84 L802.67,377.17 L808.2,365.88ZM907.73,91.37 L910.72,79.16 L915.33,80.83 L909.8,92.12ZM769.01,317.96 L759.42,326.08 L756.67,322.02 L767.78,316.14ZM783.52,305.5 L793.12,297.38 L795.87,301.44 L784.75,307.32Z" fill="#000"/>
<path d="M2,231 L55,231M117,231 L182,231M243,230 L308,230M369,230 L434,230M496,230 L561,230M622,230 L687,230M748,230 L813,230M874,229 L940,229M1001,229 L1054,229M859,57 L859,406" fill="none" stroke="#ff0000" stroke-width="2" stroke-linecap="butt"/>
</svg>
</body></html>
